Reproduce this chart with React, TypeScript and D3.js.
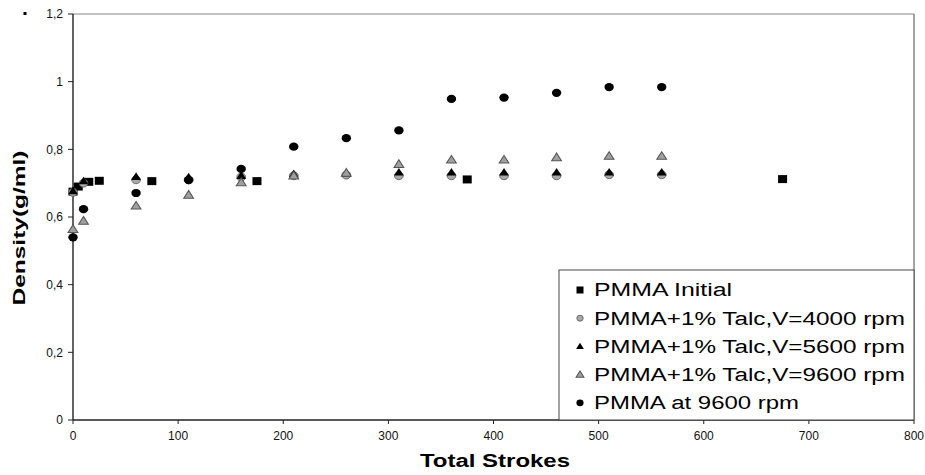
import React from "react";
import * as d3 from "d3";

const xTicks = [0, 100, 200, 300, 400, 500, 600, 700, 800];
const yTicks = [0, 0.2, 0.4, 0.6, 0.8, 1.0, 1.2];

// PMMA Initial
const initialX = [0, 5, 15, 25, 75, 175, 375, 675];
const initialY = [0.675, 0.69, 0.704, 0.707, 0.706, 0.706, 0.711, 0.712];

// Talc series share stroke counts
const talcX = [0, 10, 60, 110, 160, 210, 260, 310, 360, 410, 460, 510, 560];
const talc4000 = [0.673, 0.7, 0.71, 0.71, 0.718, 0.722, 0.724, 0.722, 0.722, 0.722, 0.722, 0.725, 0.725];
const talc5600 = [0.675, 0.704, 0.717, 0.716, 0.72, 0.725, 0.727, 0.73, 0.73, 0.73, 0.73, 0.73, 0.73];
const talc9600 = [0.562, 0.586, 0.631, 0.663, 0.7, 0.72, 0.728, 0.754, 0.767, 0.767, 0.774, 0.778, 0.778];
const pmma9600 = [0.54, 0.623, 0.671, 0.709, 0.742, 0.808, 0.833, 0.856, 0.949, 0.953, 0.967, 0.984, 0.984];

const legendLabels = [
  "PMMA Initial",
  "PMMA+1% Talc,V=4000 rpm",
  "PMMA+1% Talc,V=5600 rpm",
  "PMMA+1% Talc,V=9600 rpm",
  "PMMA at 9600 rpm",
];
const legendWidths = [138, 311, 311, 311, 205];

const FONT = "'Liberation Sans', Arial, Helvetica, sans-serif";

const W = 925;
const H = 475;
const left = 73;
const right = 914;
const top = 14;
const bottom = 420;

const x = d3.scaleLinear().domain([0, 800]).range([left, right]);
const y = d3.scaleLinear().domain([0, 1.2]).range([bottom, top]);

const triPath = d3.symbol().type(d3.symbolTriangle).size(34)() as string;
const triSmall = d3.symbol().type(d3.symbolTriangle).size(22)() as string;

const fmtY = (v: number) => {
  const s = d3.format("~g")(Math.round(v * 10) / 10);
  return s.replace(".", ",");
};

function Square({ cx, cy, w = 9, h = 8 }: { cx: number; cy: number; w?: number; h?: number }) {
  return <rect x={cx - w / 2} y={cy - h / 2} width={w} height={h} fill="#000" />;
}
function GrayCircle({ cx, cy, rx = 4.4, ry = 4 }: any) {
  return <ellipse cx={cx} cy={cy} rx={rx} ry={ry} fill="#a8a8a8" stroke="#555" strokeWidth={0.8} />;
}
function BlackTri({ cx, cy, small = false }: any) {
  return <path d={small ? triSmall : triPath} transform={`translate(${cx},${cy}) scale(1.1,1)`} fill="#000" />;
}
function GrayTri({ cx, cy, small = false }: any) {
  return (
    <path
      d={small ? triSmall : triPath}
      transform={`translate(${cx},${cy}) scale(1.1,1)`}
      fill="#a0a0a0"
      stroke="#555"
      strokeWidth={1}
    />
  );
}
function BlackCircle({ cx, cy, rx = 4.7, ry = 4.1 }: any) {
  return <ellipse cx={cx} cy={cy} rx={rx} ry={ry} fill="#000" />;
}

export default function App() {
  const legX = 559;
  const legY = 270;
  const legW = right - legX;
  const legH = bottom - legY;
  const rowY = (i: number) => 290 + i * 28.2;
  const markX = 580;
  const textX = 594;

  return (
    <svg
      width={W}
      height={H}
      style={{ position: "absolute", left: 0, top: 0, background: "#fff" }}
      fontFamily={FONT}
    >
      <rect x={0} y={0} width={W} height={H} fill="#fff" />
      <rect x={23.5} y={12} width={3} height={3} fill="#000" />

      {/* plot frame */}
      <line x1={left} x2={right} y1={top} y2={top} stroke="#858585" strokeWidth={1.2} />
      <line x1={right} x2={right} y1={top} y2={bottom} stroke="#858585" strokeWidth={1.5} />

      {/* y axis */}
      <line x1={left} x2={left} y1={top} y2={bottom} stroke="#222" strokeWidth={1.4} />
      {yTicks.map((t) => (
        <g key={"y" + t}>
          <line x1={left - 5} x2={left} y1={y(t)} y2={y(t)} stroke="#222" strokeWidth={1} />
          <text x={left - 10} y={y(t)} dy="0.35em" textAnchor="end" fontSize={12} fill="#111">
            {fmtY(t)}
          </text>
        </g>
      ))}

      {/* x axis */}
      <line x1={left} x2={right} y1={bottom} y2={bottom} stroke="#222" strokeWidth={1.4} />
      {xTicks.map((t) => (
        <g key={"x" + t}>
          <line x1={x(t)} x2={x(t)} y1={bottom} y2={bottom + 4} stroke="#222" strokeWidth={1} />
          <text x={x(t)} y={440} textAnchor="middle" fontSize={12} fill="#111">
            {t}
          </text>
        </g>
      ))}

      {/* titles */}
      <text
        x={495}
        y={467}
        textAnchor="middle"
        fontSize={18}
        fontWeight="bold"
        textLength={150}
        lengthAdjust="spacingAndGlyphs"
      >
        Total Strokes
      </text>
      <text
        transform={`translate(25,228) rotate(-90)`}
        textAnchor="middle"
        fontSize={17}
        fontWeight="bold"
        textLength={155}
        lengthAdjust="spacingAndGlyphs"
      >
        Density(g/ml)
      </text>

      {/* data */}
      {initialX.map((v, i) => (
        <Square key={"s" + i} cx={x(v)} cy={y(initialY[i])} />
      ))}
      {talcX.map((v, i) => (
        <GrayCircle key={"gc" + i} cx={x(v)} cy={y(talc4000[i])} />
      ))}
      {talcX.map((v, i) => (
        <BlackTri key={"bt" + i} cx={x(v)} cy={y(talc5600[i])} />
      ))}
      {talcX.map((v, i) => (
        <GrayTri key={"gt" + i} cx={x(v)} cy={y(talc9600[i])} />
      ))}
      {talcX.map((v, i) => (
        <BlackCircle key={"bc" + i} cx={x(v)} cy={y(pmma9600[i])} />
      ))}

      {/* legend */}
      <rect x={legX} y={legY} width={legW} height={legH} fill="#fff" stroke="#444" strokeWidth={1} />
      <Square cx={markX} cy={rowY(0)} w={7} h={7} />
      <GrayCircle cx={markX} cy={rowY(1)} rx={3.2} ry={3} />
      <BlackTri cx={markX} cy={rowY(2) + 0.5} small />
      <GrayTri cx={markX} cy={rowY(3) + 0.5} small />
      <BlackCircle cx={markX} cy={rowY(4)} rx={3.6} ry={3.4} />
      {legendLabels.map((l, i) => (
        <text
          key={l}
          x={textX}
          y={rowY(i)}
          dy="0.36em"
          fontSize={18}
          fill="#000"
          textLength={legendWidths[i]}
          lengthAdjust="spacingAndGlyphs"
        >
          {l}
        </text>
      ))}
    </svg>
  );
}
